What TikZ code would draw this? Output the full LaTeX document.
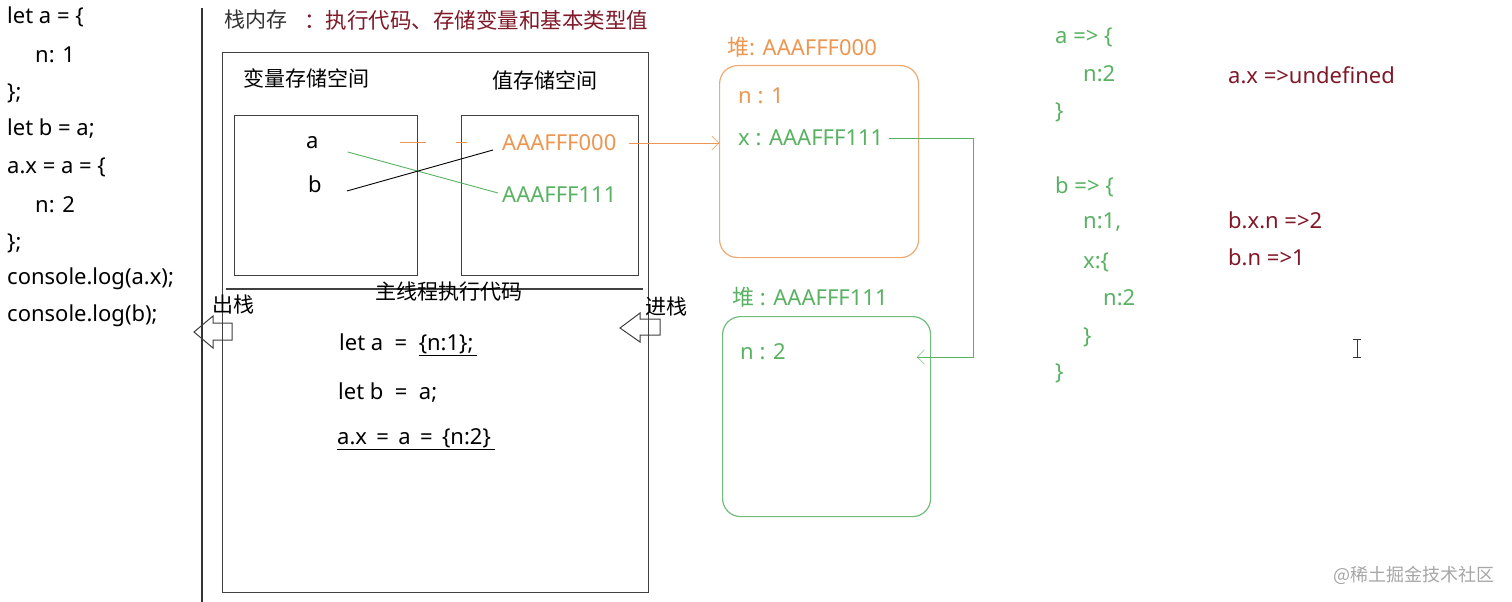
\documentclass[tikz,border=0pt]{standalone}
\usepackage{fontspec}
\setmainfont{Noto Sans}
\newfontfamily\cjk{Noto Sans CJK SC}
\usetikzlibrary{arrows.meta}
\definecolor{heaporange}{RGB}{236,150,82}
\definecolor{heapgreen}{RGB}{88,178,98}
\definecolor{notered}{RGB}{128,24,40}

\begin{document}
\begin{tikzpicture}[x=1pt,y=-1pt,
    code/.style={anchor=west, inner sep=0pt, font=\fontsize{22}{24}\selectfont},
    zh/.style={anchor=west, inner sep=0pt, font=\cjk\fontsize{21}{24}\selectfont},
    box/.style={draw=black!75, line width=1.2pt, anchor=north west, inner sep=0pt},
    heap/.style={rounded corners=18pt, line width=1.2pt, anchor=north west, inner sep=0pt},
    >={Straight Barb[length=7pt,width=14pt]}]

    \useasboundingbox[fill=white] (0,0) rectangle (1512,602);

    % Source code
    \node[code] (src1) at (7,17) {let a = \{};
    \node[code] (src2) at (35,55) {n: 1};
    \node[code] (src3) at (7,93) {\};};
    \node[code] (src4) at (7,129) {let b = a;};
    \node[code] (src5) at (7,167) {a.x = a = \{};
    \node[code] (src6) at (35,205) {n: 2};
    \node[code] (src7) at (7,243) {\};};
    \node[code] (src8) at (7,279) {console.log(a.x);};
    \node[code] (src9) at (7,316) {console.log(b);};
    \draw[black!80, line width=1.2pt] (202,8) -- (202,602);

    % Stack memory
    \node[zh, text=black!80] (title) at (224,20) {栈内存};
    \node[zh, text=notered, font=\cjk\fontsize{21.5}{24}\selectfont] (titlenote) at (304,20) {：执行代码、存储变量和基本类型值};
    \node[box, minimum width=426pt, minimum height=540pt] (stack) at (222,52) {};
    \node[zh] (varspace) at (243,78) {变量存储空间};
    \node[zh] (valspace) at (492,80) {值存储空间};
    \node[box, minimum width=183pt, minimum height=160pt] (varbox) at (234,115) {};
    \node[box, minimum width=177pt, minimum height=160pt] (valbox) at (461,115) {};
    \node[code] (va) at (306,143) {a};
    \node[code] (vb) at (308,184) {b};
    \node[code, text=heaporange] (addr0) at (502,143) {AAAFFF000};
    \node[code, text=heapgreen] (addr1) at (502,195) {AAAFFF111};

    \draw[heaporange, dash pattern=on 26pt off 30pt on 14pt off 200pt]
        ([xshift=81pt,yshift=1pt]va.east) -- ([xshift=-35pt,yshift=1pt]addr0.west);
    \draw[heapgreen, line width=0.9pt] ([xshift=29pt,yshift=-9pt]va.east) -- ([xshift=-4pt,yshift=2pt]addr1.west);
    \draw[black, line width=0.9pt] ([xshift=25pt,yshift=-7pt]vb.east) -- ([xshift=-9pt,yshift=-7pt]addr0.west);

    % Main thread
    \draw[black!75, line width=1.2pt] (226,289) -- (643,289);
    \node[zh] (mainthread) at (375,292) {主线程执行代码};
    \node[zh] (popout) at (212,305) {出栈};
    \node[zh] (pushin) at (645,307) {进栈};
    \draw[black!75, line width=1pt] (194,332) -- (213,316) -- (213,323) -- (232,323)
        -- (232,340) -- (213,340) -- (213,348) -- cycle;
    \draw[black!75, line width=1pt] (620,328) -- (640,313) -- (640,319) -- (660,319)
        -- (660,335) -- (640,335) -- (640,342) -- cycle;
    \node[code] (run1) at (339,345) {let a \ = \ \underline{\{n:1\};\,}};
    \node[code] (run2) at (338,393) {let b \ = \ a;};
    \node[code] (run3) at (337,439) {\underline{a.x \,=\, a \,=\, \{n:2\}\,}};

    % Heap
    \node[code, text=heaporange] (heapAname) at (727,47) {{\cjk 堆}: AAAFFF000};
    \node[heap, draw=heaporange!80, minimum width=199pt, minimum height=192pt] (heapA) at (719,65) {};
    \node[code, text=heaporange] (nval) at (738,96) {n : 1};
    \node[code, text=heapgreen] (xval) at (738,138) {x : AAAFFF111};
    \node[code, text=heapgreen] (heapBname) at (732,297) {{\cjk 堆} : AAAFFF111};
    \node[heap, draw=heapgreen!85, minimum width=208pt, minimum height=200pt] (heapB) at (722,316) {};
    \node[code, text=heapgreen] (nval2) at (740,352) {n : 2};

    \draw[->, heaporange] ([xshift=12pt]addr0.east) -- (addr0.east -| heapA.west);
    \coordinate (xturn) at (973,138);
    \coordinate (xin) at (917,357);
    \draw[->, heapgreen] ([xshift=6pt]xval.east) -- (xturn) |- (xin);

    % Results
    \node[code, text=heapgreen] (ra1) at (1055,37) {a => \{};
    \node[code, text=heapgreen] (ra2) at (1083,74) {n:2};
    \node[code, text=heapgreen] (ra3) at (1055,112) {\}};
    \node[code, text=heapgreen] (rb1) at (1055,187) {b => \{};
    \node[code, text=heapgreen] (rb2) at (1083,222) {n:1,};
    \node[code, text=heapgreen] (rb3) at (1083,262) {x:\{};
    \node[code, text=heapgreen] (rb4) at (1103,298) {n:2};
    \node[code, text=heapgreen] (rb5) at (1083,337) {\}};
    \node[code, text=heapgreen] (rb6) at (1055,373) {\}};
    \node[code, text=notered] (out1) at (1228,75) {a.x =>undefined};
    \node[code, text=notered] (out2) at (1228,220) {b.x.n =>2};
    \node[code, text=notered] (out3) at (1228,257) {b.n =>1};

    \draw[black!80, line width=1pt] (1357,339) -- (1357,357)
        (1353,339) -- (1361,339) (1353,357) -- (1361,357);
    \node[zh, text=black!35, font=\cjk\fontsize{18}{20}\selectfont] (mark) at (1333,575) {@稀土掘金技术社区};
\end{tikzpicture}
\end{document}
